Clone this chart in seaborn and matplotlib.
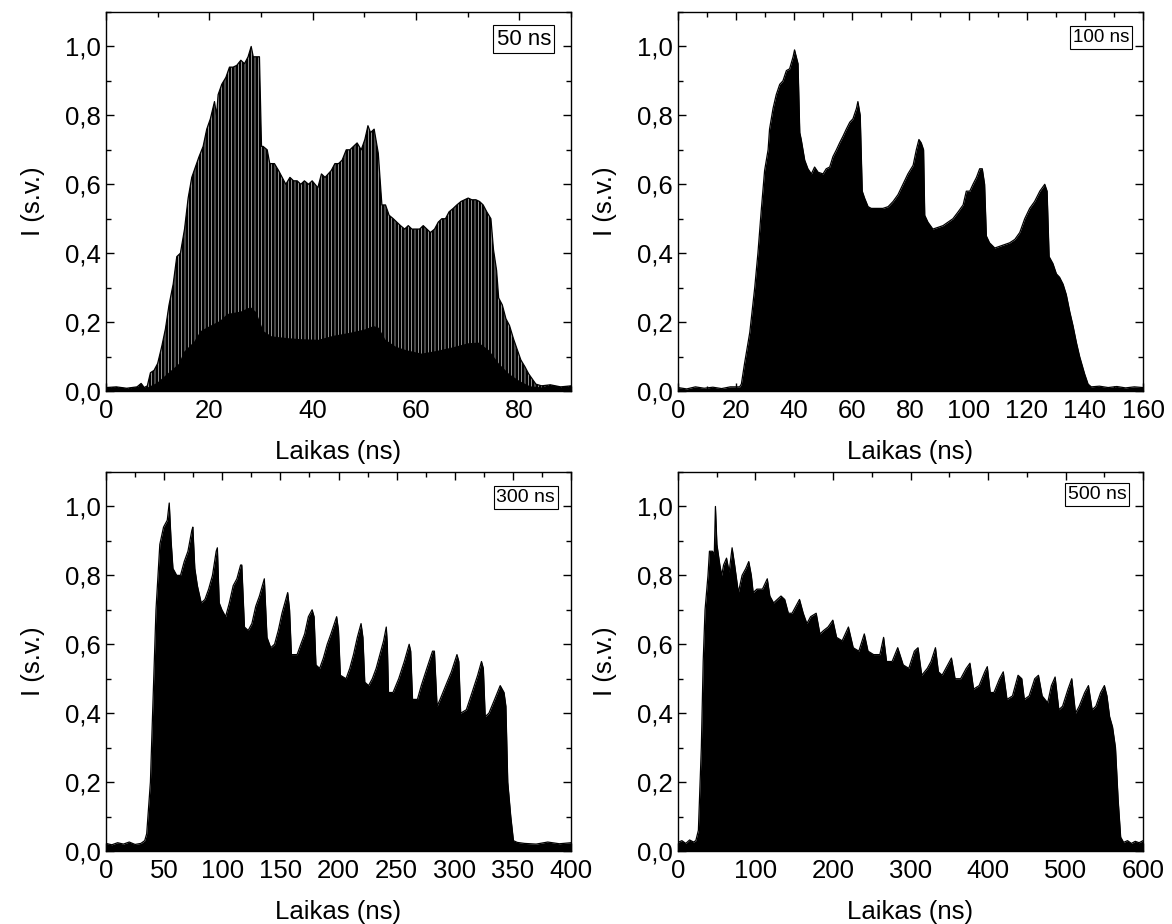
import numpy as np
import pandas as pd
import matplotlib
matplotlib.use("Agg")
import matplotlib.pyplot as plt
from matplotlib.ticker import MultipleLocator, FuncFormatter
import seaborn as sns

# ---------------- data ----------------
# Panel 1: 50 ns -- upper envelope of the pulse train
t50_up = [0, 2, 4, 6, 6.8, 7.4, 8.0, 8.6, 9.3, 10.0, 10.8, 11.5, 12.2, 13.0, 13.7, 14.4,
          15.2, 15.9, 16.6, 17.3, 18.0, 18.8, 19.5, 20.2, 21.0, 21.4, 21.7, 22.4, 23.2,
          23.9, 24.6, 25.3, 26.1, 26.8, 27.5, 28.1, 28.5, 29.0, 29.7, 30.1, 30.4, 31.2,
          31.7, 32.6, 33.4, 34.1, 34.8, 35.6, 36.3, 37.0, 37.7, 38.4, 39.2, 39.9, 41.0,
          41.7, 42.4, 43.6, 44.3, 45.0, 45.7, 46.5, 47.2, 47.9, 48.6, 49.4, 50.1, 50.7,
          51.2, 51.9, 52.7, 53.4, 54.1, 54.8, 55.6, 56.3, 57.0, 57.8, 58.5, 59.2, 59.9,
          60.7, 61.4, 62.1, 62.8, 63.6, 64.3, 65.0, 65.7, 66.4, 67.2, 67.9, 68.7, 69.4,
          70.1, 70.8, 71.6, 72.3, 73.0, 73.7, 74.5, 75.0, 75.6, 76.0, 76.7, 77.4, 78.1,
          78.9, 79.6, 80.3, 81.1, 81.8, 82.5, 83.2, 84.3, 86, 88, 90]
i50_up = [0.010, 0.012, 0.008, 0.012, 0.022, 0.010, 0.015, 0.053, 0.060, 0.080, 0.130,
          0.180, 0.250, 0.310, 0.390, 0.400, 0.470, 0.560, 0.620, 0.650, 0.680, 0.710,
          0.760, 0.790, 0.840, 0.800, 0.860, 0.890, 0.910, 0.940, 0.940, 0.945, 0.960,
          0.950, 0.970, 1.000, 0.970, 0.970, 0.970, 0.710, 0.710, 0.700, 0.660, 0.660,
          0.640, 0.620, 0.600, 0.620, 0.610, 0.610, 0.600, 0.610, 0.600, 0.610, 0.590,
          0.630, 0.620, 0.640, 0.660, 0.660, 0.670, 0.700, 0.700, 0.710, 0.720, 0.700,
          0.730, 0.770, 0.750, 0.760, 0.690, 0.540, 0.540, 0.510, 0.500, 0.490, 0.480,
          0.470, 0.480, 0.470, 0.470, 0.470, 0.480, 0.470, 0.460, 0.470, 0.490, 0.500,
          0.500, 0.520, 0.530, 0.540, 0.550, 0.555, 0.560, 0.555, 0.555, 0.550, 0.540,
          0.520, 0.500, 0.410, 0.350, 0.270, 0.250, 0.210, 0.190, 0.150, 0.120, 0.090,
          0.070, 0.050, 0.035, 0.020, 0.015, 0.018, 0.012, 0.015]
# Panel 1: lower envelope (solid base of the pulse train)
t50_low = [0, 2, 4, 6, 6.8, 7.4, 8.0, 9.8, 11.7, 14.0, 15.0, 17.0, 18.2, 20.0, 22.0,
           23.4, 26.0, 27.9, 29.0, 30.4, 32.0, 35.0, 37.5, 41.0, 44.0, 47.0, 50.0,
           51.7, 52.7, 54.0, 56.0, 58.0, 61.0, 64.0, 67.0, 70.0, 72.0, 74.0, 76.0,
           78.0, 80.0, 82.0, 84.3, 86, 88, 90]
i50_low = [0.010, 0.012, 0.008, 0.012, 0.022, 0.010, 0.012, 0.025, 0.050, 0.080, 0.115,
           0.145, 0.175, 0.190, 0.205, 0.225, 0.232, 0.245, 0.230, 0.175, 0.160, 0.155,
           0.152, 0.150, 0.162, 0.170, 0.180, 0.190, 0.185, 0.150, 0.130, 0.120, 0.110,
           0.118, 0.128, 0.140, 0.142, 0.120, 0.080, 0.050, 0.030, 0.015, 0.012, 0.018,
           0.012, 0.015]

# Panel 2: 100 ns
t100 = [0, 3, 6, 9, 12, 15, 18, 21.2, 21.8, 22.9, 24.7, 26.4, 27.5, 28.7, 29.8, 31.0,
        31.5, 32.7, 33.8, 35.0, 36.1, 37.3, 38.4, 39.6, 40.1, 40.7, 41.3, 41.9, 42.4,
        43.6, 44.7, 45.9, 47.0, 48.2, 49.9, 51.0, 52.2, 53.3, 54.5, 55.6, 56.8, 57.9,
        59.1, 60.2, 61.4, 61.9, 62.7, 63.4, 64.2, 65.4, 66.5, 68.2, 70.5, 72.3, 74.0,
        75.7, 77.4, 79.1, 80.9, 82.0, 82.9, 83.7, 84.5, 84.9, 86.0, 87.7, 89.5, 91.2,
        92.9, 94.6, 96.4, 98.1, 99.2, 100.4, 101.5, 102.7, 103.8, 104.7, 105.5, 106.1,
        107.2, 109.0, 110.7, 112.4, 114.1, 115.9, 117.6, 119.3, 121.0, 122.7, 124.5,
        126.2, 127.0, 127.7, 129.0, 130.2, 131.3, 132.5, 133.6, 134.8, 135.9, 137.1,
        138.2, 139.9, 141.1, 142.2, 145, 148, 151, 154, 157, 160]
i100 = [0.010, 0.006, 0.012, 0.008, 0.011, 0.007, 0.012, 0.012, 0.020, 0.080, 0.170,
        0.300, 0.400, 0.530, 0.640, 0.700, 0.760, 0.820, 0.860, 0.890, 0.900, 0.930,
        0.935, 0.970, 0.990, 0.970, 0.950, 0.750, 0.730, 0.670, 0.645, 0.630, 0.650,
        0.635, 0.630, 0.645, 0.650, 0.680, 0.700, 0.720, 0.740, 0.760, 0.780, 0.790,
        0.820, 0.840, 0.800, 0.580, 0.560, 0.535, 0.530, 0.530, 0.530, 0.535, 0.550,
        0.570, 0.600, 0.630, 0.655, 0.700, 0.730, 0.720, 0.700, 0.510, 0.490, 0.470,
        0.475, 0.480, 0.490, 0.500, 0.520, 0.540, 0.580, 0.580, 0.600, 0.620, 0.645,
        0.645, 0.600, 0.450, 0.430, 0.415, 0.420, 0.425, 0.430, 0.440, 0.460, 0.500,
        0.530, 0.550, 0.580, 0.600, 0.580, 0.390, 0.370, 0.340, 0.330, 0.310, 0.280,
        0.230, 0.190, 0.140, 0.100, 0.050, 0.020, 0.012, 0.014, 0.010, 0.013, 0.009,
        0.012, 0.010]

# Panel 3: 300 ns
t300 = [0, 5, 10, 15, 20, 25, 30, 33.3, 35.0, 38.2, 39.8, 43.0, 46.3, 49.5, 52.7, 54.4,
        56.0, 57.6, 60.8, 64.1, 67.3, 70.5, 73.8, 74.7, 76.4, 78.6, 81.9, 85.1, 88.3,
        91.6, 94.8, 95.8, 97.4, 99.7, 102.9, 106.1, 109.4, 112.6, 115.8, 116.8, 119.1,
        122.3, 125.5, 128.8, 132.0, 136.2, 138.5, 141.7, 145.0, 148.2, 151.4, 156.3,
        157.9, 159.5, 164.4, 167.6, 170.9, 174.1, 177.3, 179.0, 180.6, 183.8, 187.0,
        190.3, 193.5, 198.4, 200.0, 201.6, 206.5, 209.7, 212.9, 216.2, 219.4, 221.0,
        222.6, 225.9, 229.1, 232.4, 235.6, 238.8, 241.1, 242.0, 243.0, 246.9, 251.8,
        256.6, 260.8, 262.1, 263.7, 267.9, 271.2, 276.0, 280.9, 282.5, 284.8, 287.4,
        292.2, 297.1, 301.9, 303.5, 305.1, 310.0, 314.9, 319.7, 323.0, 324.6, 326.2,
        329.4, 334.3, 339.1, 342.4, 344.0, 345.6, 348.2, 350.5, 353.7, 360, 370, 380,
        390, 400]
i300 = [0.022, 0.018, 0.024, 0.020, 0.026, 0.019, 0.022, 0.030, 0.050, 0.200, 0.370,
        0.700, 0.890, 0.940, 0.960, 1.010, 0.900, 0.820, 0.800, 0.800, 0.840, 0.870,
        0.930, 0.940, 0.820, 0.770, 0.720, 0.730, 0.760, 0.800, 0.870, 0.880, 0.720,
        0.700, 0.680, 0.720, 0.770, 0.790, 0.830, 0.830, 0.650, 0.640, 0.660, 0.710,
        0.740, 0.790, 0.620, 0.590, 0.600, 0.640, 0.690, 0.750, 0.700, 0.570, 0.570,
        0.600, 0.630, 0.680, 0.700, 0.680, 0.540, 0.530, 0.560, 0.600, 0.630, 0.680,
        0.640, 0.510, 0.500, 0.530, 0.570, 0.620, 0.660, 0.620, 0.490, 0.480, 0.500,
        0.530, 0.570, 0.610, 0.650, 0.600, 0.460, 0.460, 0.500, 0.550, 0.600, 0.580,
        0.440, 0.440, 0.480, 0.530, 0.580, 0.580, 0.420, 0.440, 0.480, 0.520, 0.570,
        0.550, 0.400, 0.410, 0.460, 0.510, 0.550, 0.530, 0.390, 0.400, 0.440, 0.480,
        0.460, 0.420, 0.200, 0.100, 0.030, 0.025, 0.022, 0.020, 0.026, 0.021, 0.024]

# Panel 4: 500 ns
t500 = [0, 5, 10, 15, 20, 23.0, 26.3, 30.1, 32.5, 34.9, 38.7, 40.6, 44.5, 46.8, 48.3,
        50.2, 54.0, 56.4, 58.8, 62.6, 66.0, 69.8, 73.1, 77.9, 82.7, 87.5, 91.3, 94.6,
        97.0, 101.8, 109.0, 115.2, 118.5, 123.3, 128.1, 132.9, 137.7, 142.4, 147.2,
        152.0, 156.8, 161.6, 166.3, 171.1, 178.3, 183.1, 187.9, 193.6, 199.8, 204.6,
        211.8, 219.9, 226.1, 233.3, 240.4, 245.2, 252.4, 260.5, 265.3, 269.1, 276.3,
        283.5, 290.6, 297.8, 305.0, 309.7, 314.5, 321.7, 326.5, 332.2, 336.0, 340.8,
        348.0, 352.8, 357.5, 364.7, 371.9, 376.7, 381.4, 388.6, 395.8, 399.1, 402.9,
        407.7, 414.9, 419.7, 424.5, 431.6, 438.8, 443.6, 446.9, 453.1, 460.3, 465.1,
        469.9, 477.0, 481.8, 486.6, 491.4, 496.2, 503.3, 508.1, 512.9, 517.7, 524.8,
        529.6, 534.4, 539.2, 545.4, 550.2, 553.5, 556.9, 560.7, 564.5, 567.9, 571.2,
        575.0, 580, 585, 590, 595, 600]
i500 = [0.025, 0.030, 0.022, 0.032, 0.026, 0.030, 0.060, 0.300, 0.550, 0.700, 0.800,
        0.870, 0.870, 0.860, 1.000, 0.890, 0.830, 0.800, 0.830, 0.850, 0.810, 0.880,
        0.830, 0.750, 0.800, 0.820, 0.840, 0.800, 0.750, 0.760, 0.760, 0.790, 0.740,
        0.720, 0.730, 0.740, 0.730, 0.690, 0.690, 0.710, 0.730, 0.690, 0.660, 0.680,
        0.690, 0.630, 0.640, 0.650, 0.670, 0.620, 0.610, 0.650, 0.590, 0.580, 0.630,
        0.580, 0.570, 0.570, 0.620, 0.550, 0.550, 0.590, 0.540, 0.530, 0.580, 0.590,
        0.510, 0.530, 0.550, 0.590, 0.520, 0.510, 0.540, 0.560, 0.500, 0.500, 0.530,
        0.545, 0.470, 0.480, 0.520, 0.535, 0.460, 0.460, 0.500, 0.520, 0.440, 0.450,
        0.510, 0.500, 0.440, 0.450, 0.500, 0.510, 0.450, 0.430, 0.480, 0.505, 0.410,
        0.420, 0.470, 0.500, 0.400, 0.420, 0.460, 0.480, 0.410, 0.420, 0.460, 0.480,
        0.450, 0.390, 0.360, 0.300, 0.150, 0.040, 0.025, 0.030, 0.022, 0.028, 0.024,
        0.030]

labels = ["50 ns", "100 ns", "300 ns", "500 ns"]
xlims = [90, 160, 400, 600]
xmajor = [20, 20, 50, 100]
xminor = [10, 10, 25, 50]
xlabel = "Laikas (ns)"
ylabel = "I (s.v.)"

# ---------------- style ----------------
sns.set_style("ticks")
plt.rcParams["font.family"] = ["Liberation Sans", "DejaVu Sans"]
plt.rcParams["text.color"] = "black"
plt.rcParams["axes.labelcolor"] = "black"
plt.rcParams["hatch.color"] = "white"
plt.rcParams["hatch.linewidth"] = 0.4

W, H = 1172, 924
fig = plt.figure(figsize=(W / 100, H / 100), dpi=100)
axw, axh = 465 / W, 379 / H
lefts = [106 / W, 678 / W, 106 / W, 678 / W]
bottoms = [1 - 391 / H, 1 - 391 / H, 1 - 851 / H, 1 - 851 / H]
box_fs = [16, 13.5, 14, 14]
box_xy = [(0.957, 0.928), (0.970, 0.933), (0.966, 0.932), (0.964, 0.940)]

comma = FuncFormatter(lambda v, p: f"{v:.1f}".replace(".", ","))

axes = []
for k in range(4):
    ax = fig.add_axes([lefts[k], bottoms[k], axw, axh])
    axes.append(ax)

# panel 1: pulse train with visible gaps between pulses
ax = axes[0]
df_up = pd.DataFrame({"t": t50_up, "I": i50_up})
df_low = pd.DataFrame({"t": t50_low, "I": i50_low})
ax.fill_between(df_up["t"], 0, df_up["I"], facecolor="black", edgecolor="white",
                hatch="|||||", lw=0, zorder=1)
ax.fill_between(df_low["t"], 0, df_low["I"], color="black", lw=0, zorder=3)
sns.lineplot(data=df_up, x="t", y="I", ax=ax, color="black", lw=0.9,
             estimator=None, sort=False, zorder=4)

# panels 2-4: solid filled traces
for ax, (tt, ii) in zip(axes[1:], [(t100, i100), (t300, i300), (t500, i500)]):
    df = pd.DataFrame({"t": tt, "I": ii})
    ax.fill_between(df["t"], 0, df["I"], color="black", lw=0, zorder=2)
    sns.lineplot(data=df, x="t", y="I", ax=ax, color="black", lw=0.9,
                 estimator=None, sort=False, zorder=3)

for k, ax in enumerate(axes):
    ax.set_xlim(0, xlims[k])
    ax.set_ylim(0, 1.1)
    ax.xaxis.set_major_locator(MultipleLocator(xmajor[k]))
    ax.xaxis.set_minor_locator(MultipleLocator(xminor[k]))
    ax.yaxis.set_major_locator(MultipleLocator(0.2))
    ax.yaxis.set_minor_locator(MultipleLocator(0.1))
    ax.yaxis.set_major_formatter(comma)
    ax.tick_params(which="both", direction="in", top=True, right=True,
                   width=1, colors="black", labelsize=18.5)
    ax.tick_params(axis="x", which="major", pad=6)
    ax.tick_params(axis="y", which="major", pad=4)
    ax.tick_params(which="major", length=6)
    ax.tick_params(which="minor", length=3.5)
    for s in ax.spines.values():
        s.set_visible(True)
        s.set_linewidth(1)
        s.set_color("black")
    ax.set_xlabel(xlabel, fontsize=18.5, labelpad=12)
    ax.set_ylabel(ylabel, fontsize=18.5, labelpad=14)
    bx, by = box_xy[k]
    ax.text(bx, by, labels[k], transform=ax.transAxes, ha="right", va="center",
            fontsize=box_fs[k], zorder=10,
            bbox=dict(boxstyle="square,pad=0.15", facecolor="white",
                      edgecolor="black", lw=0.8))

fig.savefig("out.png", dpi=100)
